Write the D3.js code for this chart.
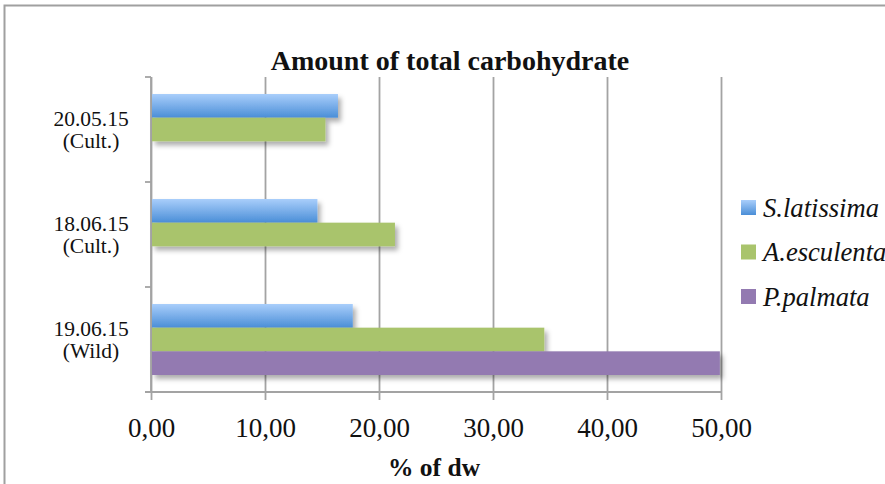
<!DOCTYPE html>
<html>
<head>
<meta charset="utf-8">
<script src="https://cdn.jsdelivr.net/npm/d3@7"></script>
<style>
  html, body { margin: 0; padding: 0; background: #fff; }
  svg { display: block; font-family: "Liberation Serif", "Times New Roman", serif; }
</style>
</head>
<body>
<svg id="chart" width="885" height="484"></svg>
<script>
// Sampling dates (top to bottom) and their harvest type
const categories = ["20.05.15", "18.06.15", "19.06.15"];
const categoryNotes = ["(Cult.)", "(Cult.)", "(Wild)"];

// Series names and values, % of dry weight
const seriesNames = ["S.latissima", "A.esculenta", "P.palmata"];
const sLatissima = [16.4, 14.6, 17.7];
const aEsculenta = [15.3, 21.4, 34.5];
const pPalmata = [null, null, 49.9];

const xTicks = [0, 10, 20, 30, 40, 50];

const seriesValues = [sLatissima, aEsculenta, pPalmata];

const svg = d3.select("#chart");
const plot = { left: 151, right: 721, top: 77, bottom: 392 };

// Outer chart frame
svg.append("rect")
  .attr("x", 4.5).attr("y", 5.5)
  .attr("width", 900).attr("height", 500)
  .attr("fill", "#fff")
  .attr("stroke", "#a0a0a0").attr("stroke-width", 2);

const defs = svg.append("defs");
const grad = defs.append("linearGradient")
  .attr("id", "blueGrad").attr("x1", 0).attr("y1", 0).attr("x2", 0).attr("y2", 1);
grad.append("stop").attr("offset", "0%").attr("stop-color", "#a9cefb");
grad.append("stop").attr("offset", "100%").attr("stop-color", "#4a8ed7");

const shadow = defs.append("filter").attr("id", "barShadow")
  .attr("x", "-5%").attr("y", "-20%").attr("width", "115%").attr("height", "160%");
shadow.append("feDropShadow")
  .attr("dx", 3).attr("dy", 4).attr("stdDeviation", 2.5)
  .attr("flood-color", "#000").attr("flood-opacity", 0.32);

const fills = ["url(#blueGrad)", "#a9c46c", "#937ab1"];

const x = d3.scaleLinear().domain([0, 50]).range([plot.left, plot.right]);
const y = d3.scaleBand().domain(categories)
  .range([plot.top, plot.bottom])
  .paddingInner(0.3238).paddingOuter(0.1619);
const ySub = d3.scaleBand().domain(seriesNames).range([0, y.bandwidth()]);

const fmt = d3.formatLocale({ decimal: ",", thousands: ".", grouping: [3], currency: ["", ""] }).format(".2f");

// Title
svg.append("text")
  .attr("x", 450).attr("y", 70)
  .attr("text-anchor", "middle")
  .attr("font-size", 28).attr("font-weight", "bold").attr("fill", "#111")
  .text("Amount of total carbohydrate");

// Vertical gridlines
const grid = svg.append("g").attr("transform", `translate(0,${plot.top})`)
  .call(d3.axisBottom(x).tickValues(xTicks).tickSize(plot.bottom - plot.top).tickFormat(""));
grid.select(".domain").remove();
grid.selectAll("line").attr("stroke", "#a3a3a3").attr("stroke-width", 1.8);

// Bars
const groups = svg.append("g").selectAll("g")
  .data(categories)
  .join("g")
  .attr("transform", c => `translate(0,${y(c)})`);

groups.selectAll("rect")
  .data((c, i) => seriesNames.map((s, k) => ({ s, k, v: seriesValues[k][i] })).filter(d => d.v != null))
  .join("rect")
  .attr("x", x(0) + 1)
  .attr("y", d => ySub(d.s))
  .attr("width", d => x(d.v) - x(0) - 1)
  .attr("height", ySub.bandwidth())
  .attr("fill", d => fills[d.k])
  .attr("filter", "url(#barShadow)");

// Bottom axis
const xAxis = svg.append("g").attr("transform", `translate(0,${plot.bottom})`)
  .call(d3.axisBottom(x).tickValues(xTicks).tickSize(8).tickPadding(26).tickFormat(fmt));
xAxis.select(".domain").remove();
xAxis.selectAll("line").attr("stroke", "#a3a3a3").attr("stroke-width", 1.8);
xAxis.selectAll("text")
  .attr("dy", null).attr("y", 45)
  .attr("font-family", "Liberation Serif, serif")
  .attr("font-size", 27).attr("fill", "#111");

svg.append("line")
  .attr("x1", plot.left - 6).attr("x2", plot.right + 1)
  .attr("y1", plot.bottom).attr("y2", plot.bottom)
  .attr("stroke", "#a3a3a3").attr("stroke-width", 1.8);

// Left axis with ticks at category boundaries
const boundaries = categories.map(c => y(c) - y.step() * y.paddingOuter()).concat([plot.bottom]);
svg.append("line")
  .attr("x1", plot.left).attr("x2", plot.left)
  .attr("y1", plot.top).attr("y2", plot.bottom)
  .attr("stroke", "#a3a3a3").attr("stroke-width", 1.8);
svg.append("g").selectAll("line").data(boundaries).join("line")
  .attr("x1", plot.left - 6).attr("x2", plot.left)
  .attr("y1", d => d).attr("y2", d => d)
  .attr("stroke", "#a3a3a3").attr("stroke-width", 1.8);

// Category labels
const catLabels = svg.append("g").selectAll("text")
  .data(categories)
  .join("text")
  .attr("text-anchor", "middle")
  .attr("font-size", 21.5).attr("fill", "#111");
catLabels.append("tspan")
  .attr("x", 91).attr("y", c => y(c) + y.bandwidth() / 2 - 3.5)
  .text(c => c);
catLabels.append("tspan")
  .attr("x", 91).attr("y", c => y(c) + y.bandwidth() / 2 + 18.5)
  .text((c, i) => categoryNotes[i]);

// Axis title
svg.append("text")
  .attr("x", 434).attr("y", 476)
  .attr("text-anchor", "middle")
  .attr("font-size", 25.5).attr("font-weight", "bold").attr("fill", "#111")
  .text("% of dw");

// Legend
const legend = svg.append("g").selectAll("g")
  .data(seriesNames)
  .join("g")
  .attr("transform", (d, i) => `translate(741,${200 + i * 44.5})`);
legend.append("rect")
  .attr("width", 15).attr("height", 15)
  .attr("fill", (d, i) => fills[i]);
legend.append("text")
  .attr("x", 22).attr("y", 16.5)
  .attr("font-size", 26.6).attr("font-style", "italic").attr("fill", "#111")
  .text(d => d);
</script>
</body>
</html>
